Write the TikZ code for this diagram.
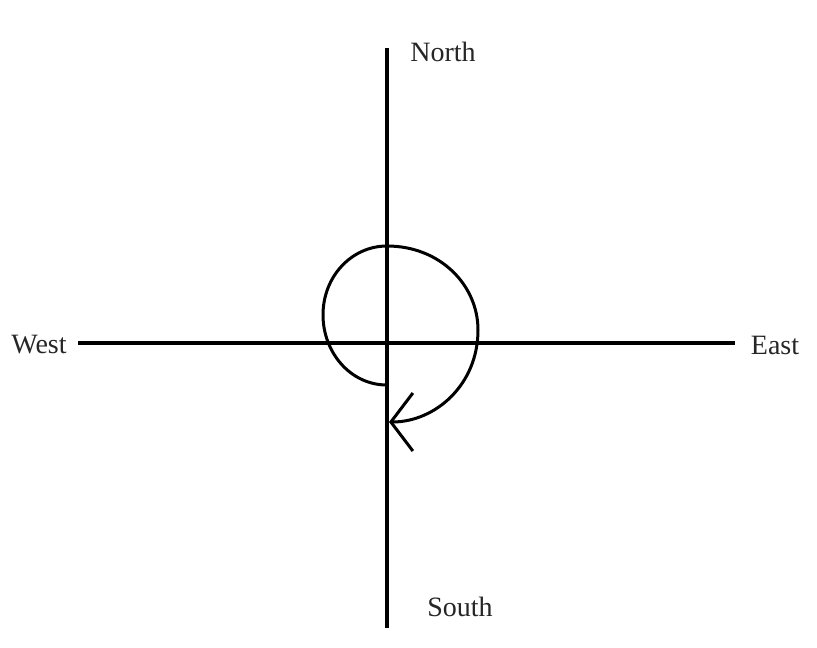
\documentclass[tikz,border=0pt]{standalone}
\usepackage{fontspec}
\setmainfont{Liberation Serif}
\usetikzlibrary{arrows.meta}
\tikzset{
  dirlabel/.style={inner sep=0pt, font=\fontsize{28}{30}\selectfont, text=black!85},
  axisline/.style={line width=3.4pt},
}
\begin{document}
\begin{tikzpicture}[x=1pt,y=-1pt]
\useasboundingbox (0,0) rectangle (817,648);
\coordinate (ntop) at (387,48);
\coordinate (sbot) at (387,628);
\coordinate (wend) at (78,343);
\coordinate (eend) at (735,343);
\node[dirlabel] (north) at (443,52) {North};
\node[dirlabel] (south) at (460,607) {South};
\node[dirlabel] (west) at (39,345) {West};
\node[dirlabel] (east) at (775,345) {East};
\draw[axisline] (ntop) -- (sbot);
\draw[axisline] (wend) -- (eend);
\coordinate (start) at (387,385);
\coordinate (tip) at (389,422);
\draw[line width=3pt, -{Straight Barb[length=22pt,width=58pt,line width=3pt]}]
  (start) .. controls (350,385) and (323,352) .. (323,315)
  .. controls (323,276) and (352,246) .. (387,246)
  .. controls (440,246) and (478,285) .. (478,330)
  .. controls (478,385) and (435,422) .. (tip);
\end{tikzpicture}
\end{document}
